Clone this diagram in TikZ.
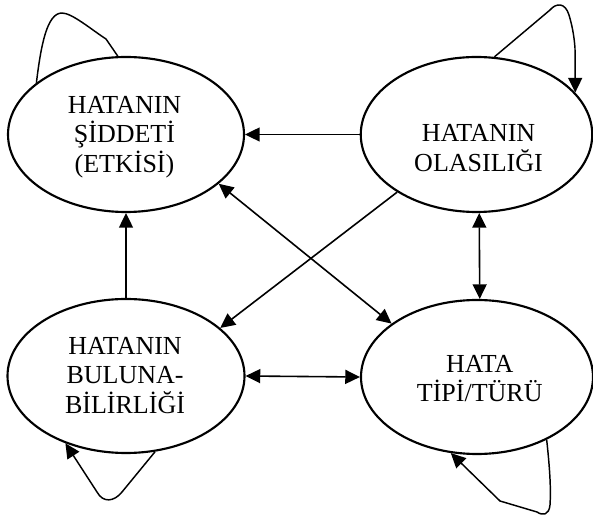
\documentclass[tikz,border=0pt]{standalone}
\usepackage{fontspec}
\setmainfont{Liberation Serif}
\usetikzlibrary{shapes.geometric,arrows.meta}
\begin{document}
\begin{tikzpicture}[x=0.75pt,y=-0.75pt,
  oval/.style={draw, ellipse, line width=1.6pt, inner sep=0pt},
  lbl/.style={align=center, font=\fontsize{19.5}{22.1}\selectfont, inner sep=0pt},
  tip/.style={-{Triangle[length=11pt,width=10.5pt]}},
  link/.style={line width=1.2pt, tip},
  twoway/.style={line width=1.2pt, {Triangle[length=11pt,width=10.5pt]}-{Triangle[length=11pt,width=10.5pt]}},
  selfloop/.style={line width=1.1pt, line join=round}]
\useasboundingbox (0,0) rectangle (593,516);

% the four factors
\node[oval, minimum width=177pt, minimum height=116.25pt] (sev) at (126,134.5) {};
\node[oval, minimum width=173.6pt, minimum height=116.25pt] (prob) at (476.5,134.5) {};
\node[oval, minimum width=177.75pt, minimum height=115.5pt] (det) at (126,376) {};
\node[oval, minimum width=174pt, minimum height=115.5pt] (typ) at (477,377) {};

\node[lbl] (sevT) at (124.5,137) {HATANIN\\ŞİDDETİ\\(ETKİSİ)};
\node[lbl] (probT) at (478.5,148.2) {HATANIN\\OLASILIĞI};
\node[lbl] (detT) at (125,375.2) {HATANIN\\BULUNA-\\BİLİRLİĞİ};
\node[lbl] (typT) at (479.7,378.8) {HATA\\TİPİ/TÜRÜ};

% relations between the factors
\draw[link] (prob.west) -- (sev.east);
\draw[link] (det.north) -- (sev.south);
\draw[twoway] (prob.-88.2) -- (typ.88.5);
\draw[twoway] (det.-0.5) -- (typ.west);
\draw[twoway] (sev.-28.6) -- (typ.148.5);
\draw[link] (prob.216.9) -- (det.27);

% self loops
\draw[selfloop] (sev.150.5) .. controls (41,45) and (47,13) .. (62,13)
  .. controls (72,13) and (92,30) .. (106,39) -- (sev.96.6);
\draw[selfloop, tip] (prob.77) -- (550,10) .. controls (556,3) and (565,2) .. (569,15)
  .. controls (572,25) and (574,35) .. (575,48) -- (prob.23.5);
\draw[selfloop, tip] (typ.-42) .. controls (550,470) and (551,490) .. (550,505)
  .. controls (549,515) and (543,516) .. (537,512) -- (500,501) -- (typ.251.6);
\draw[selfloop, tip] (det.-69.4) -- (122,492) .. controls (114,502) and (103,503) .. (97,492)
  -- (det.228.2);
\end{tikzpicture}
\end{document}
